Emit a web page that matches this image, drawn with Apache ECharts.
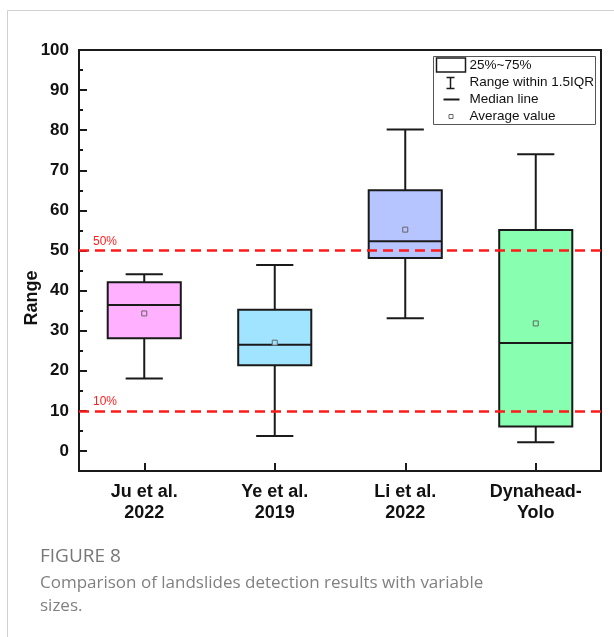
<!DOCTYPE html>
<html>
<head>
<meta charset="utf-8">
<script src="https://cdn.jsdelivr.net/npm/echarts@6/dist/echarts.min.js"></script>
<style>
    html, body { margin: 0; padding: 0; background: #fff; }
    #chart { width: 614px; height: 637px; }
</style>
</head>
<body>
<div id="chart"></div>
<script>
    // categories and box statistics
    const categories = ['Ju et al.\n2022', 'Ye et al.\n2019', 'Li et al.\n2022', 'Dynahead-\nYolo'];
    const whiskerLow = [18.1, 3.7, 33.1, 2.2];
    const q1 = [28.1, 21.4, 48.1, 6.1];
    const median = [36.4, 26.5, 52.3, 26.9];
    const q3 = [42.1, 35.2, 65.0, 55.1];
    const whiskerHigh = [44.1, 46.4, 80.2, 74.0];
    const means = [34.3, 27.0, 55.2, 31.8];
    const boxColors = ['#ffb0ff', '#a0e4ff', '#b6c4ff', '#88ffb0'];

    const refValues = [50, 10];
    const refLabels = ['50%', '10%'];
    const majorTicks = [0, 10, 20, 30, 40, 50, 60, 70, 80, 90, 100];
    const minorTicks = [5, 15, 25, 35, 45, 55, 65, 75, 85, 95];

    const boxData = categories.map((c, i) => [i, whiskerLow[i], q1[i], median[i], q3[i], whiskerHigh[i], means[i]]);

    const chart = echarts.init(document.getElementById('chart'));
    const ink = '#1a1a1a';
    const font = 'Liberation Sans, Arial, sans-serif';
    const legendX = 433, legendY = 56;

    chart.setOption({
        animation: false,
        grid: {
            left: 79, right: 13, top: 50, bottom: 166,
            show: true, borderColor: ink, borderWidth: 2, backgroundColor: 'transparent'
        },
        xAxis: {
            type: 'category',
            data: categories,
            boundaryGap: true,
            axisLine: { show: true, onZero: false, lineStyle: { color: ink, width: 2 } },
            axisTick: { show: true, alignWithLabel: true, inside: true, length: 8, lineStyle: { color: ink, width: 2 } },
            axisLabel: { color: '#111', fontFamily: font, fontWeight: 'bold', fontSize: 18, lineHeight: 21, margin: 11 },
            splitLine: { show: false }
        },
        yAxis: [
            {
                type: 'value', min: -5, max: 100,
                axisLine: { show: true, onZero: false, lineStyle: { color: ink, width: 2 } },
                axisTick: { show: true, inside: true, length: 8, customValues: majorTicks, lineStyle: { color: ink, width: 2 } },
                axisLabel: { customValues: majorTicks, color: '#111', fontFamily: font, fontWeight: 'bold', fontSize: 17, margin: 10 },
                splitLine: { show: false }
            },
            {
                type: 'value', min: -5, max: 100, position: 'left',
                axisLine: { show: false },
                axisTick: { show: true, inside: true, length: 4, customValues: minorTicks, lineStyle: { color: ink, width: 2 } },
                axisLabel: { show: false },
                splitLine: { show: false }
            }
        ],
        series: [
            {
                type: 'custom',
                data: boxData,
                encode: { x: 0, y: [1, 2, 3, 4, 5, 6] },
                renderItem(params, api) {
                    const i = params.dataIndex;
                    const x = api.value(0);
                    const band = api.size([1, 0])[0];
                    const boxW = band * 0.56, capW = band * 0.285;
                    const pLow = api.coord([x, api.value(1)]);
                    const pQ1 = api.coord([x, api.value(2)]);
                    const pMed = api.coord([x, api.value(3)]);
                    const pQ3 = api.coord([x, api.value(4)]);
                    const pHigh = api.coord([x, api.value(5)]);
                    const pMean = api.coord([x, api.value(6)]);
                    const c = pLow[0];
                    const line = (x1, y1, x2, y2) => ({
                        type: 'line', shape: { x1, y1, x2, y2 }, style: { stroke: ink, lineWidth: 2 }
                    });
                    return {
                        type: 'group',
                        children: [
                            line(c, pQ3[1], c, pHigh[1]),
                            line(c, pQ1[1], c, pLow[1]),
                            line(c - capW / 2, pHigh[1], c + capW / 2, pHigh[1]),
                            line(c - capW / 2, pLow[1], c + capW / 2, pLow[1]),
                            {
                                type: 'rect',
                                shape: { x: c - boxW / 2, y: pQ3[1], width: boxW, height: pQ1[1] - pQ3[1] },
                                style: { fill: boxColors[i], stroke: ink, lineWidth: 2 }
                            },
                            line(c - boxW / 2, pMed[1], c + boxW / 2, pMed[1]),
                            {
                                type: 'rect',
                                shape: { x: c - 2.5, y: pMean[1] - 2.5, width: 5, height: 5 },
                                style: { fill: boxColors[i], stroke: '#666', lineWidth: 1 }
                            }
                        ]
                    };
                },
                markLine: {
                    silent: true,
                    symbol: 'none',
                    lineStyle: { color: '#ff1a1a', type: [10, 6], width: 2.5 },
                    label: {
                        position: 'insideStartTop', color: '#ff2020', fontFamily: font, fontSize: 12,
                        distance: [14, 3], formatter: p => p.name
                    },
                    data: refValues.map((v, i) => ({ yAxis: v, name: refLabels[i] }))
                },
                z: 3
            }
        ],
        graphic: [
            // page frame
            { type: 'line', shape: { x1: 7.5, y1: 10.5, x2: 7.5, y2: 637 }, style: { stroke: '#d0d0d0', lineWidth: 1 } },
            { type: 'line', shape: { x1: 7.5, y1: 10.5, x2: 614, y2: 10.5 }, style: { stroke: '#d0d0d0', lineWidth: 1 } },
            // y axis title
            {
                type: 'text', x: 32, y: 298, rotation: Math.PI / 2,
                style: { text: 'Range', fill: '#111', font: 'bold 18px ' + font, align: 'center', verticalAlign: 'middle' }
            },
            // legend
            {
                type: 'group', left: legendX, top: legendY, z: 10,
                children: [
                    { type: 'rect', shape: { x: 0, y: 0, width: 162, height: 68 }, style: { fill: '#fff', stroke: '#555', lineWidth: 1 } },
                    { type: 'rect', shape: { x: 3, y: 1.5, width: 29, height: 14 }, style: { fill: '#fff', stroke: ink, lineWidth: 1.5 } },
                    { type: 'text', x: 36, y: 9, style: { text: '25%~75%', fill: '#111', font: '13.5px ' + font, verticalAlign: 'middle' } },
                    { type: 'line', shape: { x1: 17, y1: 21, x2: 17, y2: 32 }, style: { stroke: ink, lineWidth: 1.5 } },
                    { type: 'line', shape: { x1: 13, y1: 21, x2: 21, y2: 21 }, style: { stroke: ink, lineWidth: 1.5 } },
                    { type: 'line', shape: { x1: 13, y1: 32, x2: 21, y2: 32 }, style: { stroke: ink, lineWidth: 1.5 } },
                    { type: 'text', x: 36, y: 26, style: { text: 'Range within 1.5IQR', fill: '#111', font: '13.5px ' + font, verticalAlign: 'middle' } },
                    { type: 'line', shape: { x1: 10, y1: 43, x2: 26, y2: 43 }, style: { stroke: ink, lineWidth: 2 } },
                    { type: 'text', x: 36, y: 43, style: { text: 'Median line', fill: '#111', font: '13.5px ' + font, verticalAlign: 'middle' } },
                    { type: 'rect', shape: { x: 15.5, y: 58, width: 4, height: 4 }, style: { fill: '#fff', stroke: '#666', lineWidth: 1 } },
                    { type: 'text', x: 36, y: 60, style: { text: 'Average value', fill: '#111', font: '13.5px ' + font, verticalAlign: 'middle' } }
                ]
            },
            // caption
            {
                type: 'text', x: 40, y: 557,
                style: { text: 'FIGURE 8', fill: '#777', font: '19px "Open Sans", sans-serif', verticalAlign: 'middle' }
            },
            {
                type: 'text', x: 40, y: 583,
                style: { text: 'Comparison of landslides detection results with variable', fill: '#808080', font: '17px "Open Sans", sans-serif', verticalAlign: 'middle' }
            },
            {
                type: 'text', x: 40, y: 606,
                style: { text: 'sizes.', fill: '#808080', font: '17px "Open Sans", sans-serif', verticalAlign: 'middle' }
            }
        ]
    });
</script>
</body>
</html>
